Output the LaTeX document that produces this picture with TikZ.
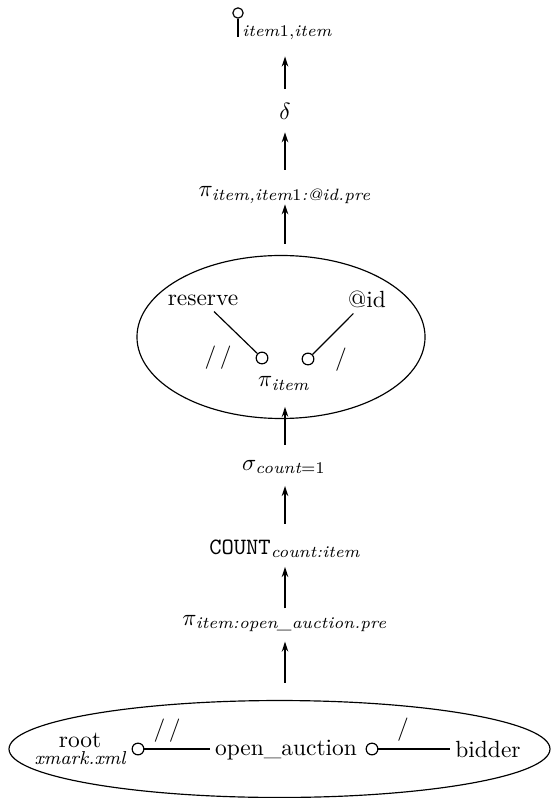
\documentclass[tikz,border=0pt]{standalone}
\usepackage{amsmath}
\usetikzlibrary{arrows.meta,shapes.geometric}

\tikzset{
  op/.style={inner sep=2pt, anchor=base},
  flow/.style={-{Stealth[length=4.3pt,width=2.8pt]}, line width=.6pt},
  port/.style={draw, circle, inner sep=0pt, minimum size=5pt, line width=.5pt},
  axis/.style={inner sep=1pt},
  plan/.style={draw, ellipse, inner sep=0pt, line width=.5pt}
}

\begin{document}
\begin{tikzpicture}[x=.427pt, y=-.427pt, line width=.5pt]
\useasboundingbox (0,0) rectangle (551,798);
\coordinate (spine) at (285,0);

% result
\node[port, minimum size=4.4pt] (out) at (238,13) {};
\coordinate (outstem) at (238,37);
\draw (out) -- (outstem);
\node[op, font=\scriptsize] (outlbl) at (287,37) {\textit{item}1,\textit{item}};

\node[op] (delta) at (285,120) {$\delta$};
\node[op] (piout) at (285,197) {$\pi_{\textit{item,item}1\textit{:@id.pre}}$};

% step over item
\node[plan, minimum width=123pt, minimum height=69.6pt] (sel) at (281,337) {};
\node[op] (reserve) at (203,306) {reserve};
\node[op] (atid) at (367,308) {@id};
\node[port] (lport) at (262,358) {};
\node[port] (rport) at (308,359) {};
\draw (reserve) -- (lport);
\draw (atid) -- (rport);
\node[axis] (laxis) at (218,358) {/\kern1.5pt/};
\node[axis] (raxis) at (341,360) {/};
\node[op] (piitem) at (284,387) {$\pi_{\textit{item}}$};

\node[op] (sigma) at (284,470) {$\sigma_{\textit{count}=1}$};
\node[op] (count) at (285,554) {\texttt{COUNT}$_{\textit{count:item}}$};
\node[op] (pioa) at (285,625) {$\pi_{\textit{item:open\_auction.pre}}$};

% document scan
\node[plan, minimum width=231pt, minimum height=41.4pt] (scan) at (279.5,749) {};
\node[op] (root) at (80,747) {root};
\node[op, font=\footnotesize\itshape] (doc) at (80,764) {xmark.xml};
\node[port] (rootport) at (138,749) {};
\node[op] (oa) at (286,755) {open\_auction};
\node[port] (oaport) at (372,749) {};
\node[op] (bidder) at (488,757) {bidder};
\draw (rootport) -- (rootport -| oa.west);
\draw (oaport) -- (oaport -| bidder.west);
\node[axis] (ldesc) at (167,731) {/\kern1.5pt/};
\node[axis] (rdesc) at (403,730) {/};

% plan edges
\foreach \a/\b/\s/\t in {scan/pioa/7.3pt/2pt, pioa/count/.5pt/1.7pt, count/sigma/4.5pt/3pt,
    sigma/sel/4.3pt/-5.2pt, sel/piout/4.7pt/-2pt, piout/delta/5pt/3pt, delta/outlbl/4pt/4.7pt}
  \draw[flow, shorten <=\s, shorten >=\t] (\a.north -| spine) -- (\b.south -| spine);

\end{tikzpicture}
\end{document}
